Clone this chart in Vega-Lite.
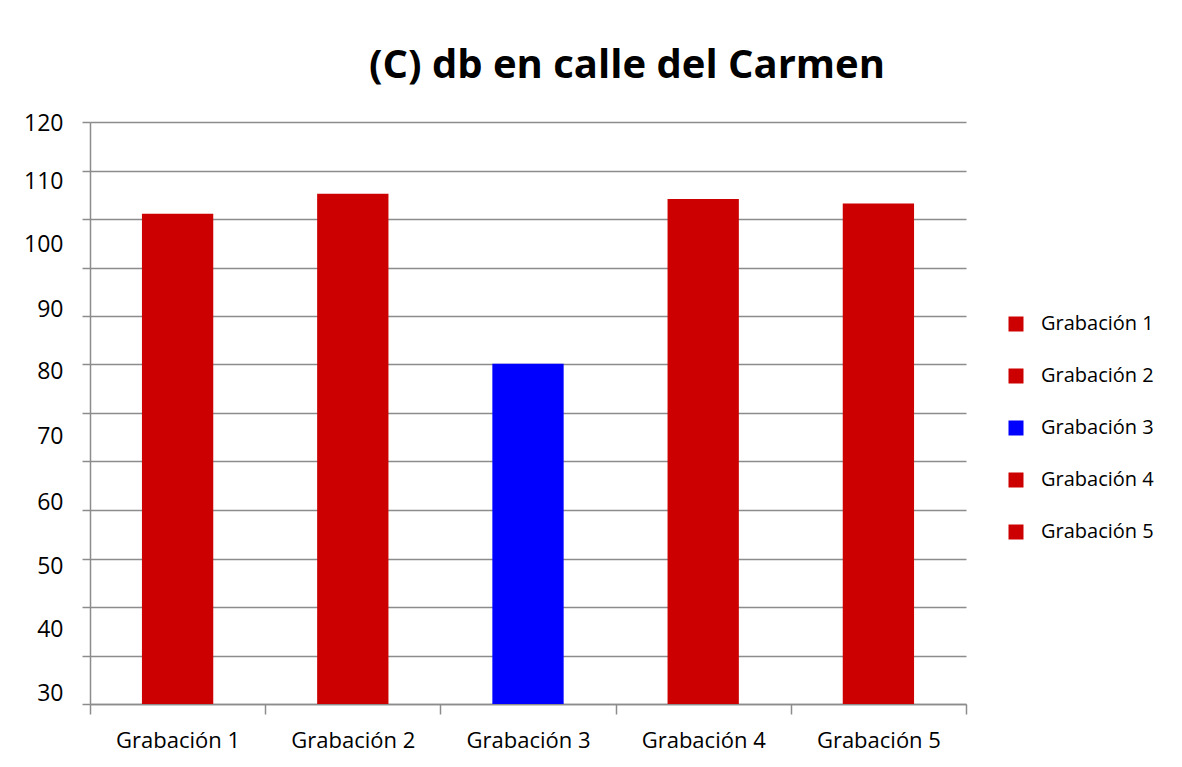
{
  "$schema": "https://vega.github.io/schema/vega-lite/v6.json",
  "autosize": {"type": "none"},
  "padding": {"left": 90, "top": 122, "right": 216, "bottom": 63},
  "width": 876,
  "height": 582,
  "background": "white",
  "config": {
    "font": "Open Sans",
    "view": {"stroke": null},
    "axis": {"labelFont": "Open Sans", "labelColor": "#000000", "domainColor": "#8c8c8c", "tickColor": "#8c8c8c", "gridColor": "#8c8c8c", "domainWidth": 1.5, "tickWidth": 1.5, "gridWidth": 1.5, "gridOpacity": 1}
  },
  "title": {
    "text": "(C) db en calle del Carmen",
    "font": "Open Sans",
    "fontSize": 40,
    "fontWeight": "bold",
    "color": "#000000",
    "anchor": "middle",
    "frame": "group",
    "dx": 99,
    "offset": 27
  },
  "data": {
    "values": [
      {"grabacion": "Grabación 1", "db": 105.8},
      {"grabacion": "Grabación 2", "db": 108.9},
      {"grabacion": "Grabación 3", "db": 82.6},
      {"grabacion": "Grabación 4", "db": 108.1},
      {"grabacion": "Grabación 5", "db": 107.4}
    ]
  },
  "encoding": {
    "x": {
      "field": "grabacion",
      "type": "nominal",
      "sort": null,
      "scale": {"paddingInner": 0, "paddingOuter": 0},
      "axis": {"title": null, "labelAngle": 0, "labelFontSize": 22, "tickBand": "extent", "tickSize": 10, "labelPadding": 16, "grid": false}
    }
  },
  "layer": [
    {
      "mark": {"type": "bar", "width": {"band": 0.407}},
      "encoding": {
        "y": {
          "field": "db",
          "type": "quantitative",
          "scale": {"domain": [30, 120], "zero": false, "nice": false},
          "axis": {"title": null, "labels": false, "grid": true, "tickSize": 8, "values": [30, 37.5, 45, 52.5, 60, 67.5, 75, 82.5, 90, 97.5, 105, 112.5, 120]}
        },
        "y2": {"datum": 30},
        "color": {
          "field": "grabacion",
          "type": "nominal",
          "scale": {"domain": ["Grabación 1", "Grabación 2", "Grabación 3", "Grabación 4", "Grabación 5"], "range": ["#CC0000", "#CC0000", "#0000FF", "#CC0000", "#CC0000"]},
          "legend": {
            "title": null,
            "orient": "none",
            "legendX": 916,
            "legendY": 192,
            "padding": 0,
            "symbolType": "square",
            "symbolSize": 225,
            "symbolStrokeWidth": 0,
            "labelFont": "Open Sans",
            "labelFontSize": 20,
            "labelColor": "#000000",
            "labelOffset": 15,
            "rowPadding": 32
          }
        }
      }
    },
    {
      "mark": {"type": "bar", "width": {"band": 0.407}, "opacity": 0},
      "encoding": {
        "y": {
          "field": "db",
          "type": "quantitative",
          "axis": {"title": null, "orient": "left", "ticks": false, "domain": false, "grid": false, "labelFontSize": 23, "labelPadding": 27, "values": [119.7, 110.8, 101.0, 91.0, 81.4, 71.4, 61.1, 51.3, 41.5, 31.7], "labelExpr": "format(round(datum.value/10)*10, 'd')"}
        },
        "y2": {"datum": 30}
      }
    }
  ],
  "resolve": {"axis": {"y": "independent"}}
}
